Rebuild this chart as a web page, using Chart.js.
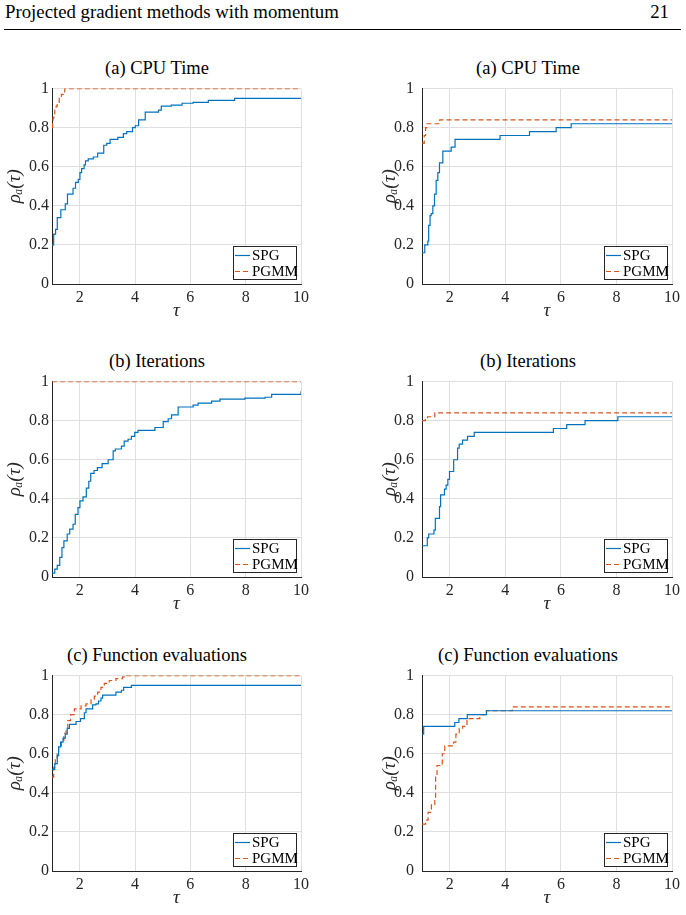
<!DOCTYPE html>
<html>
<head>
<meta charset="utf-8">
<script src="https://cdn.jsdelivr.net/npm/chart.js@4.4.1/dist/chart.umd.min.js"></script>
<style>
  body { margin: 0; background: #fff; width: 686px; height: 915px; position: relative; overflow: hidden;
         font-family: 'Liberation Serif', 'DejaVu Serif', serif; }
  .hdr { position: absolute; top: 3px; font-size: 18.8px; line-height: 18px; color: #000; }
  .rule { position: absolute; left: 4px; width: 677px; top: 29px; height: 1px; background: #000; }
  .ttl { position: absolute; width: 240px; text-align: center; font-size: 18.5px; line-height: 20px; color: #000; }
  canvas { position: absolute; }
</style>
</head>
<body>
<div class="hdr" style="left:5px">Projected gradient methods with momentum</div>
<div class="hdr" style="right:17px">21</div>
<div class="rule"></div>

<div class="ttl" style="left:37px;top:58px">(a) CPU Time</div>
<div class="ttl" style="left:408px;top:58px">(a) CPU Time</div>
<div class="ttl" style="left:37px;top:351px">(b) Iterations</div>
<div class="ttl" style="left:408px;top:351px">(b) Iterations</div>
<div class="ttl" style="left:37px;top:645px">(c) Function evaluations</div>
<div class="ttl" style="left:408px;top:645px">(c) Function evaluations</div>

<canvas id="c1" width="320" height="250" style="left:0;top:76px"></canvas>
<canvas id="c2" width="343" height="250" style="left:343px;top:76px"></canvas>
<canvas id="c3" width="320" height="250" style="left:0;top:369px"></canvas>
<canvas id="c4" width="343" height="250" style="left:343px;top:369px"></canvas>
<canvas id="c5" width="320" height="250" style="left:0;top:663px"></canvas>
<canvas id="c6" width="343" height="250" style="left:343px;top:663px"></canvas>

<script>
// axes ticks
const xTicks = [2, 4, 6, 8, 10];
const yTicks = [0, 0.2, 0.4, 0.6, 0.8, 1];

// (a) CPU Time, left panel
const tauCpuL_spg  = [1.00, 1.06, 1.13, 1.19, 1.32, 1.48, 1.56, 1.76, 1.85, 1.95, 2.01, 2.07, 2.16, 2.21, 2.31, 2.49, 2.65, 2.87, 2.98, 3.10, 3.38, 3.58, 3.70, 3.91, 4.01, 4.13, 4.37, 4.85, 4.95, 5.31, 5.70, 6.10, 6.65, 7.60, 10.0];
const rhoCpuL_spg  = [0.20, 0.255, 0.28, 0.34, 0.38, 0.41, 0.46, 0.49, 0.52, 0.535, 0.57, 0.59, 0.61, 0.63, 0.64, 0.65, 0.67, 0.71, 0.72, 0.74, 0.75, 0.77, 0.78, 0.80, 0.81, 0.84, 0.88, 0.89, 0.91, 0.915, 0.925, 0.93, 0.94, 0.95, 0.95];
const tauCpuL_pgmm = [1.00, 1.02, 1.04, 1.07, 1.10, 1.15, 1.19, 1.26, 1.34, 1.40, 1.46, 10.0];
const rhoCpuL_pgmm = [0.80, 0.83, 0.85, 0.87, 0.89, 0.91, 0.93, 0.95, 0.97, 0.98, 1.00, 1.00];

// (a) CPU Time, right panel
const tauCpuR_spg  = [1.00, 1.10, 1.21, 1.24, 1.29, 1.33, 1.39, 1.45, 1.51, 1.57, 1.63, 1.75, 2.05, 2.19, 3.81, 4.87, 5.83, 6.37, 10.0];
const rhoCpuR_spg  = [0.16, 0.20, 0.22, 0.30, 0.35, 0.36, 0.40, 0.46, 0.53, 0.57, 0.62, 0.68, 0.70, 0.74, 0.76, 0.78, 0.80, 0.82, 0.82];
const tauCpuR_pgmm = [1.00, 1.08, 1.13, 1.18, 1.64, 10.0];
const rhoCpuR_pgmm = [0.72, 0.76, 0.80, 0.82, 0.84, 0.84];

// (b) Iterations, left panel
const tauItL_spg  = [1.00, 1.10, 1.19, 1.28, 1.36, 1.43, 1.55, 1.64, 1.76, 1.84, 1.94, 2.01, 2.12, 2.24, 2.33, 2.40, 2.52, 2.64, 2.81, 3.03, 3.21, 3.29, 3.51, 3.61, 3.75, 3.87, 3.99, 4.11, 4.72, 5.02, 5.20, 5.32, 5.56, 6.10, 6.28, 6.77, 7.07, 7.97, 8.70, 8.94, 10.0];
const rhoItL_spg  = [0.02, 0.04, 0.06, 0.10, 0.15, 0.185, 0.22, 0.245, 0.27, 0.32, 0.355, 0.39, 0.41, 0.455, 0.49, 0.53, 0.545, 0.56, 0.58, 0.60, 0.645, 0.655, 0.67, 0.695, 0.705, 0.72, 0.74, 0.75, 0.765, 0.795, 0.81, 0.83, 0.87, 0.88, 0.89, 0.90, 0.91, 0.915, 0.92, 0.935, 0.95];
const tauItL_pgmm = [1.00, 10.0];
const rhoItL_pgmm = [1.00, 1.00];

// (b) Iterations, right panel
const tauItR_spg  = [1.00, 1.19, 1.24, 1.43, 1.48, 1.63, 1.67, 1.81, 1.87, 1.93, 1.99, 2.14, 2.28, 2.34, 2.46, 2.64, 2.88, 5.73, 6.21, 6.87, 8.05, 10.0];
const rhoItR_spg  = [0.16, 0.20, 0.22, 0.24, 0.30, 0.36, 0.42, 0.45, 0.47, 0.50, 0.54, 0.60, 0.66, 0.68, 0.70, 0.72, 0.74, 0.76, 0.78, 0.80, 0.82, 0.82];
const tauItR_pgmm = [1.00, 1.12, 1.20, 1.46, 10.0];
const rhoItR_pgmm = [0.80, 0.81, 0.82, 0.84, 0.84];

// (c) Function evaluations, left panel
const tauFeL_spg  = [1.00, 1.10, 1.19, 1.24, 1.31, 1.40, 1.48, 1.55, 1.63, 1.87, 2.03, 2.17, 2.23, 2.47, 2.59, 2.68, 2.77, 2.83, 3.31, 3.51, 3.59, 3.87, 10.0];
const rhoFeL_spg  = [0.52, 0.55, 0.59, 0.635, 0.66, 0.68, 0.70, 0.73, 0.75, 0.765, 0.78, 0.81, 0.83, 0.85, 0.855, 0.87, 0.885, 0.90, 0.915, 0.925, 0.94, 0.95, 0.95];
const tauFeL_pgmm = [1.00, 1.06, 1.12, 1.19, 1.24, 1.34, 1.43, 1.51, 1.57, 1.67, 1.81, 2.05, 2.23, 2.41, 2.53, 2.65, 2.77, 2.89, 3.07, 3.31, 3.55, 3.67, 10.0];
const rhoFeL_pgmm = [0.48, 0.53, 0.57, 0.60, 0.64, 0.67, 0.705, 0.73, 0.77, 0.80, 0.83, 0.845, 0.855, 0.88, 0.895, 0.915, 0.94, 0.96, 0.975, 0.985, 0.993, 1.00, 1.00];

// (c) Function evaluations, right panel
const tauFeR_spg  = [1.00, 1.06, 2.18, 2.33, 2.63, 3.32, 10.0];
const rhoFeR_spg  = [0.70, 0.74, 0.76, 0.78, 0.80, 0.82, 0.82];
const tauFeR_pgmm = [1.00, 1.13, 1.22, 1.34, 1.46, 1.49, 1.54, 1.73, 1.82, 2.14, 2.22, 2.34, 2.46, 2.62, 3.08, 3.32, 4.25, 10.0];
const rhoFeR_pgmm = [0.24, 0.26, 0.30, 0.34, 0.37, 0.48, 0.54, 0.60, 0.64, 0.66, 0.70, 0.73, 0.74, 0.78, 0.80, 0.82, 0.84, 0.84];

const blue = '#0072BD';
const orange = '#D95319';
const serif = "'Liberation Serif', 'DejaVu Serif', serif";

Chart.defaults.font.family = serif;
Chart.defaults.color = '#262626';

function pts(tau, rho) {
  return tau.map((t, i) => ({ x: t, y: rho[i] }));
}

// legend box drawn inside the plot, bottom right (like MATLAB 'southeast')
const legendBox = {
  id: 'legendBox',
  afterDatasetsDraw(chart) {
    const { ctx, chartArea: a } = chart;
    const w = 64, h = 34;
    const x0 = a.right - 4 - w, y0 = a.bottom - 4 - h;
    ctx.save();
    ctx.fillStyle = '#fff';
    ctx.fillRect(x0, y0, w, h);
    ctx.strokeStyle = '#262626';
    ctx.lineWidth = 1;
    ctx.strokeRect(x0 + 0.5, y0 + 0.5, w - 1, h - 1);
    chart.data.datasets.forEach((ds, i) => {
      const y = y0 + 9.5 + i * 16;
      ctx.strokeStyle = ds.borderColor;
      ctx.lineWidth = ds.borderWidth;
      ctx.setLineDash(ds.borderDash || []);
      ctx.beginPath();
      ctx.moveTo(x0 + 2, y);
      ctx.lineTo(x0 + 17, y);
      ctx.stroke();
      ctx.setLineDash([]);
      ctx.fillStyle = '#000';
      ctx.font = '15px ' + serif;
      ctx.textBaseline = 'middle';
      ctx.fillText(ds.label, x0 + 19, y + 0.5);
    });
    ctx.restore();
  }
};

function makeChart(id, spg, pgmm, right) {
  return new Chart(document.getElementById(id), {
    type: 'line',
    data: {
      datasets: [
        { label: 'SPG', data: spg, borderColor: blue, borderWidth: 1.2, stepped: true, pointRadius: 0, fill: false },
        { label: 'PGMM', data: pgmm, borderColor: orange, borderWidth: 1.2, borderDash: [5, 3], stepped: true, pointRadius: 0, fill: false }
      ]
    },
    options: {
      responsive: false,
      animation: false,
      devicePixelRatio: 1,
      layout: { padding: { left: right ? 32 : 0, right: right ? 14 : 19, top: 12, bottom: 0 } },
      plugins: { legend: { display: false }, tooltip: { enabled: false } },
      scales: {
        x: {
          type: 'linear', min: 1, max: 10,
          afterBuildTicks: s => { s.ticks = xTicks.map(v => ({ value: v })); },
          afterFit: s => { s.height = 42; },
          grid: { color: '#dfdfdf', drawTicks: false },
          border: { color: '#262626' },
          ticks: { padding: 4, font: { size: 16 }, maxRotation: 0, autoSkip: false, callback: v => String(v) },
          title: { display: true, text: 'τ', font: { size: 19, style: 'italic' }, padding: { top: 0, bottom: 4 } }
        },
        y: {
          type: 'linear', min: 0, max: 1,
          afterBuildTicks: s => { s.ticks = yTicks.map(v => ({ value: v })); },
          afterFit: s => { s.width = right ? 47 : 52; },
          // right panels: invisible tick marks push the labels further from the axis
          grid: { color: '#dfdfdf', drawTicks: right, tickLength: 5, tickColor: 'rgba(0,0,0,0)' },
          border: { color: '#262626' },
          ticks: { padding: 3, font: { size: 16 }, autoSkip: false, callback: v => String(v) },
          title: { display: true, text: 'ρₐ(τ)', font: { size: 19, style: 'italic' }, padding: { top: 4, bottom: 0 } }
        }
      }
    },
    plugins: [legendBox]
  });
}

makeChart('c1', pts(tauCpuL_spg, rhoCpuL_spg), pts(tauCpuL_pgmm, rhoCpuL_pgmm), false);
makeChart('c2', pts(tauCpuR_spg, rhoCpuR_spg), pts(tauCpuR_pgmm, rhoCpuR_pgmm), true);
makeChart('c3', pts(tauItL_spg, rhoItL_spg), pts(tauItL_pgmm, rhoItL_pgmm), false);
makeChart('c4', pts(tauItR_spg, rhoItR_spg), pts(tauItR_pgmm, rhoItR_pgmm), true);
makeChart('c5', pts(tauFeL_spg, rhoFeL_spg), pts(tauFeL_pgmm, rhoFeL_pgmm), false);
makeChart('c6', pts(tauFeR_spg, rhoFeR_spg), pts(tauFeR_pgmm, rhoFeR_pgmm), true);
</script>
</body>
</html>
